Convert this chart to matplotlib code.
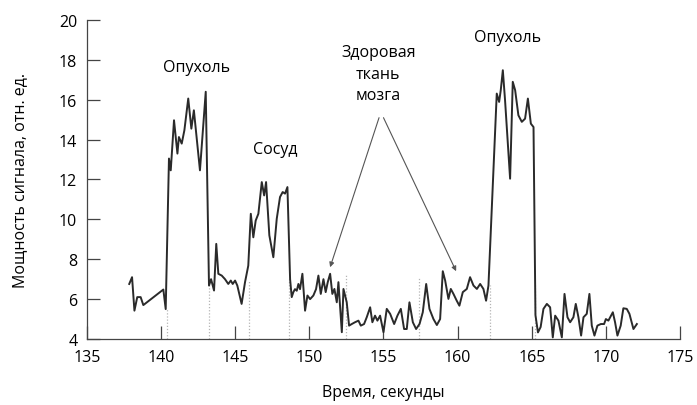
import matplotlib
matplotlib.use("Agg")
import matplotlib.pyplot as plt

# ---------------- data ----------------
time_s = [
    137.85, 138.04, 138.20, 138.39, 138.62, 138.80, 140.15, 140.31, 140.53, 140.65,
    140.87, 141.10, 141.20, 141.39, 141.57, 141.83, 142.04, 142.21, 142.62, 143.01,
    143.23, 143.37, 143.57, 143.72, 143.86, 144.09, 144.31, 144.53, 144.70, 144.83,
    144.99, 145.14, 145.43, 145.66, 145.88, 146.05, 146.22, 146.38, 146.56, 146.79,
    146.95, 147.08, 147.30, 147.57, 147.80, 148.02, 148.20, 148.36, 148.52, 148.70,
    148.81, 148.92, 149.03, 149.15, 149.26, 149.37, 149.53, 149.71, 149.87, 150.05,
    150.27, 150.45, 150.61, 150.77, 150.95, 151.10, 151.24, 151.40, 151.55, 151.69,
    151.85, 151.96, 152.07, 152.19, 152.30, 152.41, 152.52, 152.68, 152.86, 153.08,
    153.31, 153.47, 153.69, 153.87, 154.10, 154.25, 154.43, 154.59, 154.77, 155.00,
    155.22, 155.45, 155.72, 155.94, 156.17, 156.39, 156.57, 156.75, 156.98, 157.20,
    157.43, 157.65, 157.88, 158.10, 158.37, 158.60, 158.82, 159.00, 159.16, 159.38,
    159.54, 159.72, 159.94, 160.12, 160.35, 160.62, 160.84, 161.07, 161.30, 161.52,
    161.74, 161.92, 162.08, 162.64, 162.80, 162.91, 163.05, 163.20, 163.54, 163.72,
    163.88, 164.10, 164.33, 164.55, 164.74, 164.94, 165.12, 165.25, 165.42, 165.60,
    165.79, 166.02, 166.24, 166.42, 166.58, 166.80, 167.03, 167.21, 167.41, 167.59,
    167.81, 167.97, 168.15, 168.33, 168.49, 168.71, 168.89, 169.05, 169.23, 169.43,
    169.66, 169.88, 170.00, 170.17, 170.29, 170.47, 170.62, 170.78, 171.00, 171.18,
    171.41, 171.59, 171.86, 172.09,
]
power = [
    6.76, 7.10, 5.42, 6.10, 6.10, 5.70, 6.48, 5.50, 13.05, 12.46,
    14.97, 13.30, 14.13, 13.80, 14.47, 16.06, 14.55, 15.47, 12.46, 16.40,
    6.68, 7.00, 6.43, 8.77, 7.27, 7.18, 7.00, 6.76, 6.93, 6.76,
    6.93, 6.68, 5.76, 6.85, 7.68, 10.28, 9.10, 9.94, 10.28, 11.87,
    11.20, 11.87, 9.20, 8.10, 10.03, 11.12, 11.37, 11.29, 11.62, 7.00,
    6.10, 6.35, 6.50, 6.42, 6.76, 6.50, 7.27, 5.42, 6.18, 6.00,
    6.18, 6.50, 7.18, 6.26, 7.00, 6.35, 6.85, 7.27, 6.26, 6.51,
    5.84, 6.85, 5.67, 4.34, 6.51, 6.18, 5.84, 4.67, 4.75, 4.84,
    4.92, 4.67, 4.75, 5.09, 5.59, 4.84, 5.17, 4.92, 5.17, 4.34,
    5.51, 5.26, 4.75, 5.17, 5.51, 4.50, 4.50, 5.84, 4.84, 4.50,
    4.75, 5.34, 6.76, 5.51, 5.00, 4.70, 5.00, 7.40, 6.93, 6.01,
    6.51, 6.26, 5.92, 5.67, 6.35, 6.51, 7.10, 6.68, 6.51, 6.76,
    6.51, 5.92, 6.68, 16.31, 15.89, 16.48, 17.48, 15.97, 12.04, 16.90,
    16.48, 15.22, 14.89, 15.05, 16.06, 14.80, 14.63, 5.20, 4.33, 4.60,
    5.51, 5.76, 5.59, 4.08, 5.17, 4.92, 4.08, 6.26, 5.09, 4.84,
    5.09, 5.76, 5.09, 4.17, 5.09, 5.26, 6.26, 4.67, 4.17, 4.67,
    4.75, 4.75, 5.00, 4.92, 5.09, 5.34, 4.84, 4.17, 4.67, 5.54,
    5.51, 5.26, 4.50, 4.75,
]

# region borders (dotted markers) and their heights
border_t = [140.4, 143.2, 145.9, 148.6, 152.5, 157.4, 162.2, 165.2]
border_top = [5.5, 6.7, 6.9, 7.0, 7.2, 7.1, 6.7, 6.7]

x_ticks = [135, 140, 145, 150, 155, 160, 165, 170, 175]
y_ticks = [4, 6, 8, 10, 12, 14, 16, 18, 20]

plt.rcParams["font.family"] = ["Open Sans", "DejaVu Sans"]
fs = 11.5

fig = plt.figure(figsize=(6.97, 4.06), dpi=100)
ax = fig.add_axes([0.1248, 0.1626, 0.8508, 0.7857])

for bt, top in zip(border_t, border_top):
    ax.vlines(bt, 4, top, colors="#b5b5b5", linestyles=(0, (1, 1.5)), linewidth=0.9)

ax.plot(time_s, power, color="#2a2a2a", linewidth=1.4)

# labels on the curve
ax.text(142.4, 17.65, "Опухоль", ha="center", va="center", fontsize=fs)
ax.text(147.7, 13.55, "Сосуд", ha="center", va="center", fontsize=fs)
ax.text(154.65, 17.3, "Здоровая\nткань\nмозга", ha="center", va="center",
        fontsize=fs, linespacing=1.45)
ax.text(163.4, 19.15, "Опухоль", ha="center", va="center", fontsize=fs)

arrow_style = dict(arrowstyle="-|>", color="#555555", lw=0.8,
                   mutation_scale=7, shrinkA=0, shrinkB=0)
ax.annotate("", xy=(151.4, 7.6), xytext=(154.7, 15.1), arrowprops=arrow_style)
ax.annotate("", xy=(159.9, 7.4), xytext=(155.0, 15.1), arrowprops=arrow_style)

ax.set_xlim(135, 175)
ax.set_ylim(4, 20)
ax.set_xticks(x_ticks)
ax.set_yticks(y_ticks)
ax.tick_params(direction="in", length=9.5, width=0.9, color="#444444",
               labelsize=fs, pad=7)
for side in ("top", "right"):
    ax.spines[side].set_visible(False)
for side in ("left", "bottom"):
    ax.spines[side].set_color("#444444")
    ax.spines[side].set_linewidth(0.9)

ax.set_xlabel("Время, секунды", fontsize=fs, labelpad=14)
ax.set_ylabel("Мощность сигнала, отн. ед.", fontsize=fs, labelpad=22)

fig.savefig("out.png", dpi=100)
